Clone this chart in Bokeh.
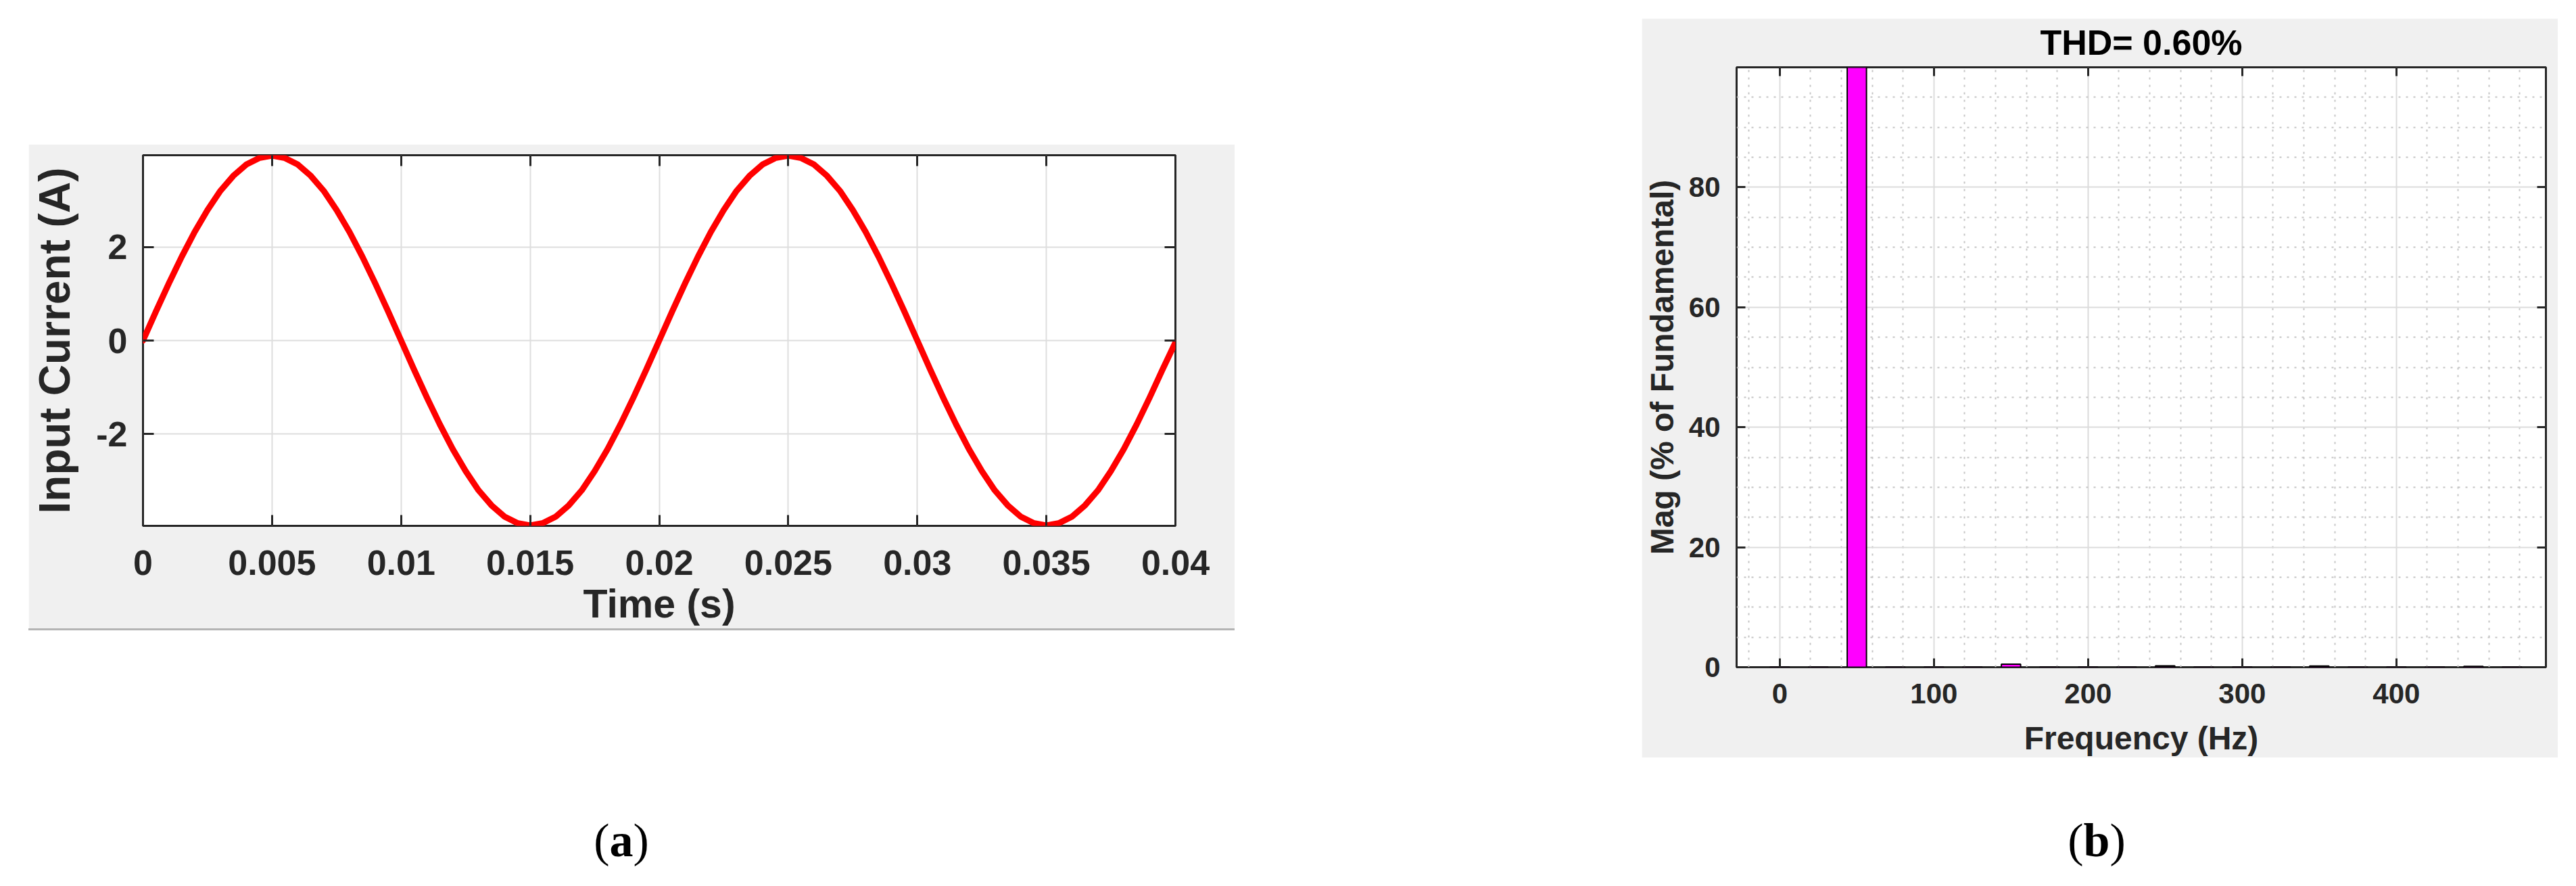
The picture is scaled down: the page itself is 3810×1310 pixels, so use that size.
from bokeh.plotting import figure
from bokeh.models import Range1d, FixedTicker, LinearAxis, Div, Spacer
from bokeh.layouts import row, column
from bokeh.embed import file_html
from bokeh.resources import INLINE
import numpy as np

# ---------------- data (a): input current waveform ----------------
time_s = np.linspace(0.0, 0.04, 81)
current_a = [
    0.00, 0.62, 1.22, 1.79, 2.32, 2.79, 3.20, 3.52, 3.76, 3.90,
    3.95, 3.90, 3.76, 3.52, 3.20, 2.79, 2.32, 1.79, 1.22, 0.62,
    0.00, -0.62, -1.22, -1.79, -2.32, -2.79, -3.20, -3.52, -3.76, -3.90,
    -3.95, -3.90, -3.76, -3.52, -3.20, -2.79, -2.32, -1.79, -1.22, -0.62,
    0.00, 0.62, 1.22, 1.79, 2.32, 2.79, 3.20, 3.52, 3.76, 3.90,
    3.95, 3.90, 3.76, 3.52, 3.20, 2.79, 2.32, 1.79, 1.22, 0.62,
    0.00, -0.62, -1.22, -1.79, -2.32, -2.79, -3.20, -3.52, -3.76, -3.90,
    -3.95, -3.90, -3.76, -3.52, -3.20, -2.79, -2.32, -1.79, -1.22, -0.62,
    -0.04,
]
time_ticks = [0.0, 0.005, 0.01, 0.015, 0.02, 0.025, 0.03, 0.035, 0.04]
time_tick_labels = ["0", "0.005", "0.01", "0.015", "0.02", "0.025", "0.03", "0.035", "0.04"]
current_ticks = [-2, 0, 2]
current_tick_labels = ["-2", "0", "2"]

# ---------------- data (b): FFT spectrum ----------------
freq_hz = [0, 25, 50, 75, 100, 125, 150, 175, 200, 225,
           250, 275, 300, 325, 350, 375, 400, 425, 450, 475]
mag_pct = [0.04, 0.03, 100.0, 0.03, 0.03, 0.03, 0.50, 0.03, 0.03, 0.03,
           0.22, 0.03, 0.03, 0.03, 0.20, 0.03, 0.03, 0.03, 0.15, 0.03]
freq_ticks = [0, 100, 200, 300, 400]
freq_minor = [-20, 20, 40, 60, 80, 120, 140, 160, 180, 220, 240, 260, 280,
              320, 340, 360, 380, 420, 440, 460, 480]
mag_ticks = [0, 20, 40, 60, 80]
mag_minor = [5, 10, 15, 25, 30, 35, 45, 50, 55, 65, 70, 75, 85, 90, 95]
thd_title = "THD= 0.60%"

FONT = "Liberation Sans"
AX = "#262626"
BG = "#f0f0f0"


def style_axis(ax, tick_len, fs, standoff, lab_fs=None, lab_standoff=0, show=True):
    ax.axis_line_color = None
    ax.major_tick_in = tick_len
    ax.major_tick_out = 0
    ax.major_tick_line_width = 3
    ax.major_tick_line_color = AX
    ax.minor_tick_line_color = None
    ax.major_label_text_font = FONT
    ax.major_label_text_font_style = "bold"
    if show:
        ax.major_label_text_color = AX
        ax.major_label_text_font_size = fs
        ax.major_label_standoff = standoff
    else:
        ax.major_label_text_color = None
        ax.major_label_text_font_size = "1px"
        ax.major_label_standoff = 0
    if lab_fs:
        ax.axis_label_text_font = FONT
        ax.axis_label_text_font_style = "bold"
        ax.axis_label_text_font_size = lab_fs
        ax.axis_label_text_color = AX
        ax.axis_label_standoff = lab_standoff


# ---------------- figure (a) ----------------
p1 = figure(width=1784, height=716, x_range=Range1d(0, 0.04), y_range=Range1d(-3.96, 3.96),
            output_backend="svg", toolbar_location=None,
            min_border_left=158, min_border_right=88, min_border_top=16, min_border_bottom=152,
            border_fill_color=BG, background_fill_color="white")
p1.outline_line_color = AX
p1.outline_line_width = 3

xt1 = FixedTicker(ticks=time_ticks)
yt1 = FixedTicker(ticks=current_ticks)
p1.xaxis.ticker = xt1
p1.yaxis.ticker = yt1
p1.xaxis.major_label_overrides = {float(t): l for t, l in zip(time_ticks, time_tick_labels)}
p1.yaxis.major_label_overrides = {t: l for t, l in zip(current_ticks, current_tick_labels)}
p1.xaxis.axis_label = "Time (s)"
p1.yaxis.axis_label = "Input Current (A)"
style_axis(p1.xaxis[0], 16, "52px", 36, "59px", 7)
style_axis(p1.yaxis[0], 16, "52px", 23, "64px", 22)
top1 = LinearAxis(ticker=xt1)
right1 = LinearAxis(ticker=yt1)
style_axis(top1, 16, None, 0, show=False)
style_axis(right1, 16, None, 0, show=False)
p1.add_layout(top1, "above")
p1.add_layout(right1, "right")
p1.xgrid.ticker = xt1
p1.ygrid.ticker = yt1
for g in (p1.xgrid[0], p1.ygrid[0]):
    g.grid_line_color = "#dedede"
    g.grid_line_width = 2

p1.line(time_s, current_a, line_color="#ff0000", line_width=9, line_join="round", line_cap="round")

# ---------------- figure (b) ----------------
p2 = figure(width=1355, height=1093, x_range=Range1d(-28, 497), y_range=Range1d(0, 100),
            output_backend="svg", toolbar_location=None,
            min_border_left=138, min_border_right=18, min_border_top=70, min_border_bottom=132,
            border_fill_color=BG, background_fill_color="white", title=thd_title)
p2.title.align = "center"
p2.title.text_font = FONT
p2.title.text_font_style = "bold"
p2.title.text_font_size = "52px"
p2.title.text_color = "black"
p2.title.standoff = 8
p2.outline_line_color = AX
p2.outline_line_width = 3

xt2 = FixedTicker(ticks=freq_ticks, minor_ticks=freq_minor)
yt2 = FixedTicker(ticks=mag_ticks, minor_ticks=mag_minor)
p2.xaxis.ticker = xt2
p2.yaxis.ticker = yt2
p2.xaxis.axis_label = "Frequency (Hz)"
p2.yaxis.axis_label = "Mag (% of Fundamental)"
style_axis(p2.xaxis[0], 13, "42px", 20, "48px", 22)
style_axis(p2.yaxis[0], 13, "42px", 20, "48px", 10)
top2 = LinearAxis(ticker=xt2)
right2 = LinearAxis(ticker=yt2)
style_axis(top2, 13, None, 0, show=False)
style_axis(right2, 13, None, 0, show=False)
p2.add_layout(top2, "above")
p2.add_layout(right2, "right")
p2.xgrid.ticker = xt2
p2.ygrid.ticker = yt2
for g in (p2.xgrid[0], p2.ygrid[0]):
    g.grid_line_color = "#dcdcdc"
    g.grid_line_width = 2
    g.minor_grid_line_color = "#c4c4c4"
    g.minor_grid_line_width = 2
    g.minor_grid_line_dash = "3 8"

p2.vbar(x=freq_hz, top=mag_pct, width=12.5, fill_color="#ff00ff", line_color="black", line_width=2)

# ---------------- captions & layout ----------------
cap_style = {"text-align": "center", "font-size": "70px", "line-height": "80px",
             "font-family": "'Liberation Serif', 'DejaVu Serif', serif", "color": "black"}
cap_a = Div(text="(<b>a</b>)", width=300, height=80, styles=cap_style, margin=0)
cap_b = Div(text="(<b>b</b>)", width=300, height=80, styles=cap_style, margin=0)
sep = Div(text="", width=1784, height=3, styles={"background-color": "#b4b4b4"}, margin=0)

col_left = column(Spacer(width=1784, height=213), p1, sep, Spacer(width=1784, height=271),
                  row(Spacer(width=727, height=80), cap_a), spacing=0)
col_right = column(Spacer(width=1355, height=27), p2, Spacer(width=1355, height=83),
                   row(Spacer(width=523, height=80), cap_b), spacing=0)
layout = row(Spacer(width=42, height=10), col_left, Spacer(width=602, height=10), col_right, spacing=0)

open("out.html", "w").write(file_html(layout, INLINE))
